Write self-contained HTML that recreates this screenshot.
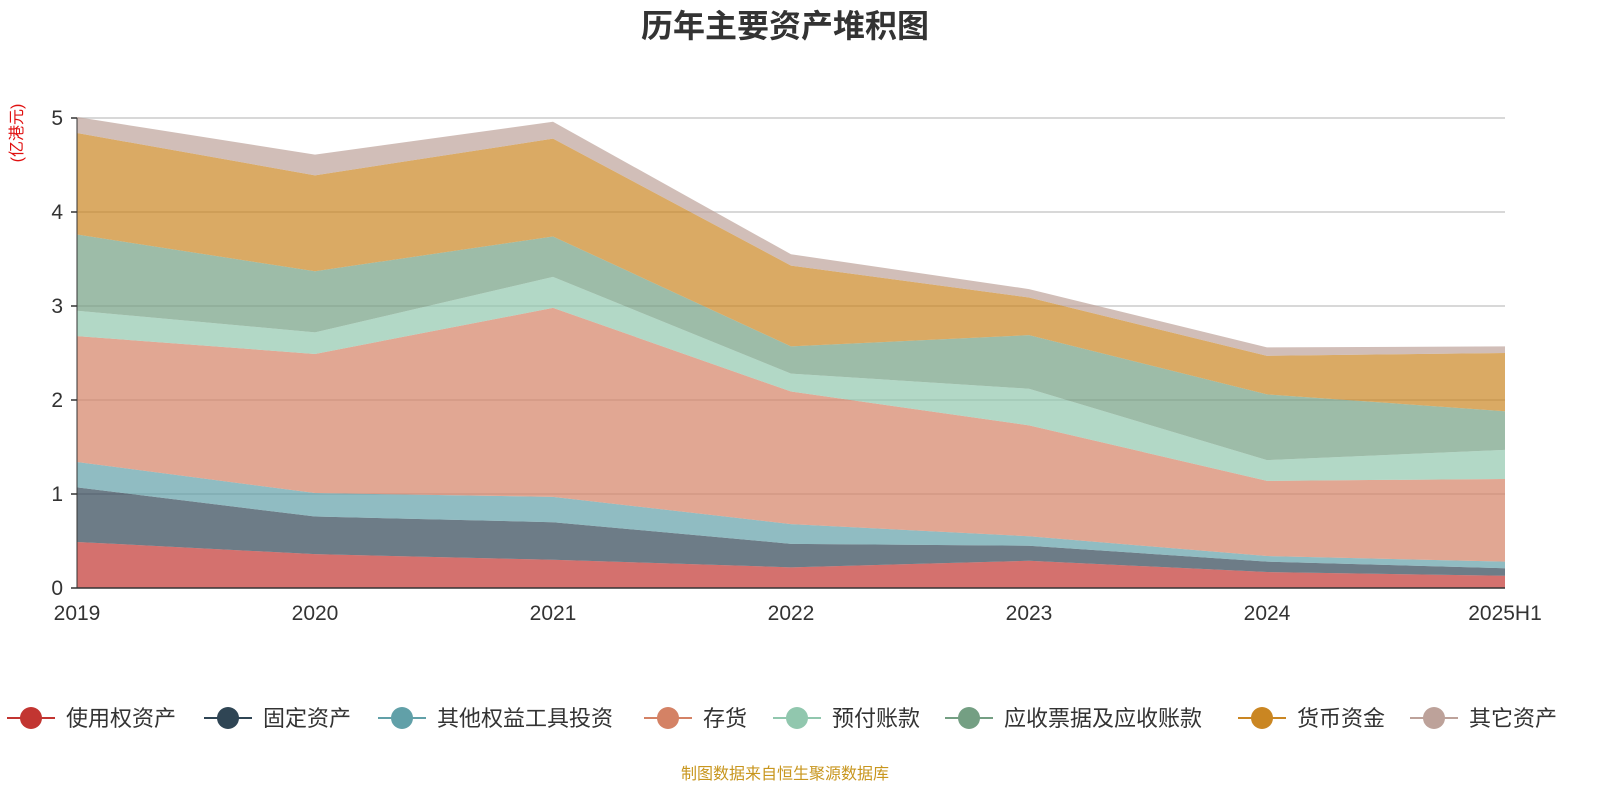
<!DOCTYPE html>
<html><head><meta charset="utf-8">
<style>
body{margin:0;background:#fff;}
svg{display:block;font-family:"Liberation Sans","Noto Sans CJK SC",sans-serif;}
</style></head>
<body>
<svg id="chart" width="1600" height="800">
<text x="785" y="37" text-anchor="middle" font-size="32" font-weight="bold" fill="#333">历年主要资产堆积图</text>
<text transform="translate(22,133) rotate(-90)" text-anchor="middle" font-size="16" fill="#e01010">(亿港元)</text>
<g id="grid"></g>
<g id="areas"></g>
<g id="axes"></g>
<g id="legend"></g>
<text x="785" y="779" text-anchor="middle" font-size="16" fill="#c8961e">制图数据来自恒生聚源数据库</text>
</svg>
<script>
const categories=["2019","2020","2021","2022","2023","2024","2025H1"];
const seriesNames=["使用权资产","固定资产","其他权益工具投资","存货","预付账款","应收票据及应收账款","货币资金","其它资产"];
const rightOfUse=[0.49,0.36,0.30,0.22,0.29,0.17,0.13];
const fixedAssets=[0.58,0.40,0.40,0.25,0.16,0.11,0.08];
const otherEquity=[0.27,0.25,0.27,0.21,0.10,0.06,0.07];
const inventory=[1.34,1.48,2.01,1.41,1.18,0.80,0.88];
const prepayments=[0.27,0.23,0.33,0.19,0.39,0.22,0.31];
const receivables=[0.81,0.65,0.43,0.29,0.57,0.70,0.41];
const cash=[1.08,1.02,1.04,0.86,0.40,0.41,0.62];
const otherAssets=[0.17,0.22,0.18,0.12,0.09,0.09,0.07];
const yTicks=[0,1,2,3,4,5];
const seriesData=[rightOfUse,fixedAssets,otherEquity,inventory,prepayments,receivables,cash,otherAssets];
const colors=["#c23531","#2f4554","#61a0a8","#d48265","#91c7ae","#749f83","#ca8622","#bda29a"];
const NS="http://www.w3.org/2000/svg";
const X0=77,X1=1505,Y0=588,Y5=118;
const xPos=i=>X0+i*(X1-X0)/(categories.length-1);
const yPos=v=>Y0-v*(Y0-Y5)/5;
function mk(tag,attrs,parent){const e=document.createElementNS(NS,tag);for(const k in attrs)e.setAttribute(k,attrs[k]);parent.appendChild(e);return e;}
const grid=document.getElementById('grid'),axes=document.getElementById('axes'),areas=document.getElementById('areas'),legend=document.getElementById('legend');
yTicks.forEach(t=>{
  if(t>0){const l=mk('line',{x1:X0,x2:X1,y1:yPos(t),y2:yPos(t),stroke:'#ccc','stroke-width':1.5},grid);
  
  }
  const tk=mk('line',{x1:X0-6,x2:X0,y1:yPos(t),y2:yPos(t),stroke:'#333','stroke-width':1.5},axes);
  
  
  const tx=mk('text',{x:X0-14,y:yPos(t)+7,'text-anchor':'end','font-size':21,fill:'#333'},axes);tx.textContent=t;
  
  
});
let base=categories.map(()=>0);
seriesData.forEach((s,si)=>{
  const top=base.map((b,i)=>b+s[i]);
  let pts=top.map((v,i)=>xPos(i)+','+yPos(v));
  for(let i=base.length-1;i>=0;i--)pts.push(xPos(i)+','+yPos(base[i]));
  const p=mk('polygon',{points:pts.join(' '),fill:colors[si],'fill-opacity':0.7},areas);
  
  
  base=top;
});
const ax=mk('line',{x1:X0,x2:X1,y1:Y0,y2:Y0,stroke:'#333','stroke-width':1.5},axes);


const ay=mk('line',{x1:X0,x2:X0,y1:Y5,y2:Y0,stroke:'#333','stroke-width':1},axes);


categories.forEach((c,i)=>{
  const tx=mk('text',{x:xPos(i),y:620,'text-anchor':'middle','font-size':21,fill:'#333'},axes);tx.textContent=c;
  
  
});
const legendX=[31,228,402,668,797,969,1262,1434];
seriesNames.forEach((n,i)=>{
  const g=mk('g',{},legend);
  
  
  const cx=legendX[i];
  mk('line',{x1:cx-24,x2:cx+24,y1:718,y2:718,stroke:colors[i],'stroke-width':2},g);
  mk('circle',{cx:cx,cy:718,r:11,fill:colors[i]},g);
  const t=mk('text',{x:cx+35,y:726,'font-size':22,fill:'#333'},g);t.textContent=n;
});
</script>
</body></html>
